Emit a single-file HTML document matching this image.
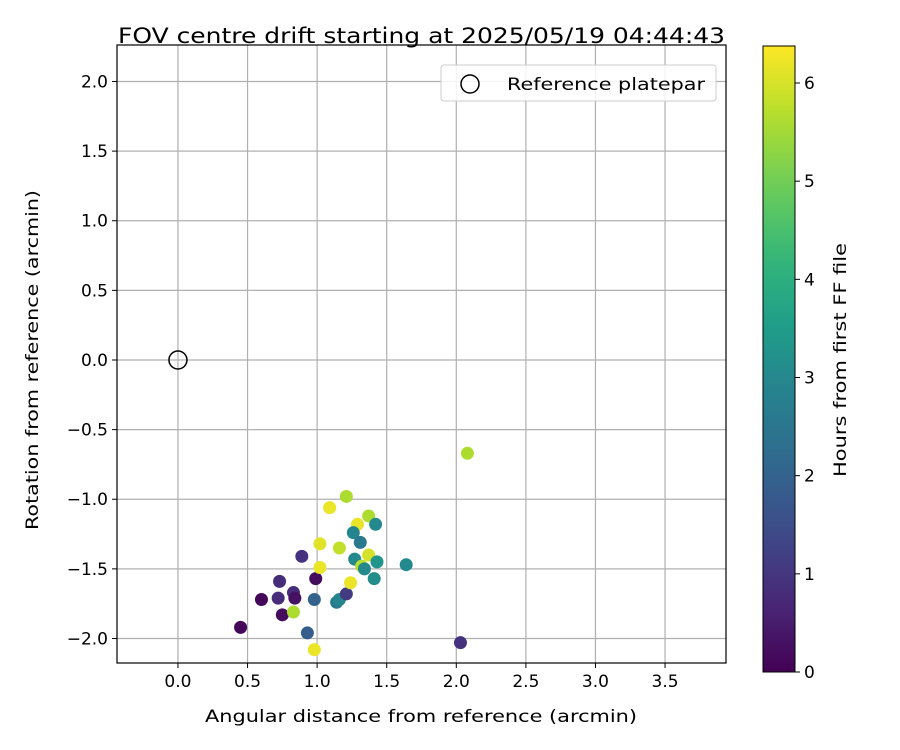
<!DOCTYPE html>
<html><head><meta charset="utf-8"><style>
html,body{margin:0;padding:0;background:#fff;}
svg{display:block;font-family:"DejaVu Sans","Liberation Sans",sans-serif;}
</style></head><body>
<svg id="chart" width="900" height="750" viewBox="0 0 900 750"></svg>
<script>
const xValues = [0.45,0.60,0.72,0.73,0.83,0.84,0.75,0.83,0.89,0.99,0.98,0.93,0.98,1.02,1.02,1.09,1.21,1.16,1.14,1.16,1.21,1.24,1.29,1.26,1.37,1.42,1.31,1.27,1.37,1.32,1.34,1.43,1.41,1.64,2.08,2.03];
const yValues = [-1.92,-1.72,-1.71,-1.59,-1.67,-1.71,-1.83,-1.81,-1.41,-1.57,-1.72,-1.96,-2.08,-1.49,-1.32,-1.06,-0.98,-1.35,-1.74,-1.72,-1.68,-1.60,-1.18,-1.24,-1.12,-1.18,-1.31,-1.43,-1.40,-1.48,-1.50,-1.45,-1.57,-1.47,-0.67,-2.03];
const hours = [0.1,0.1,0.8,0.8,0.8,0.3,0.2,5.6,0.9,0.2,2.0,1.9,6.2,6.2,6.1,6.2,5.6,5.8,2.6,2.9,1.1,6.2,6.2,2.9,5.6,3.0,2.6,3.0,6.0,5.7,3.0,3.3,3.1,3.0,5.6,0.9];
const xTicks = [0.0,0.5,1.0,1.5,2.0,2.5,3.0,3.5];
const yTicks = [2.0,1.5,1.0,0.5,0.0,-0.5,-1.0,-1.5,-2.0];
const cTicks = [0,1,2,3,4,5,6];

const NS="http://www.w3.org/2000/svg";
const svg=document.getElementById('chart');
const L=117,R=726,T=45,B=663;
const xMin=-0.438,xMax=3.938,yMin=-2.176,yMax=2.262;
const cMax=6.377, cL=763,cR=795,cT=46,cB=672;
const FS=17;
function sx(v){return L+(v-xMin)/(xMax-xMin)*(R-L);}
function sy(v){return B-(v-yMin)/(yMax-yMin)*(B-T);}
function sc(v){return cB-v/cMax*(cB-cT);}
const vir=[[68,1,84],[72,40,120],[62,74,137],[49,104,142],[38,130,142],[31,158,137],[53,183,121],[109,205,89],[180,222,44],[253,231,37]];
function viridis(t){t=Math.max(0,Math.min(1,t));const p=t*(vir.length-1);const i=Math.min(Math.floor(p),vir.length-2);const f=p-i;
 const c=vir[i].map((a,k)=>Math.round(a+(vir[i+1][k]-a)*f));return `rgb(${c[0]},${c[1]},${c[2]})`;}
function el(tag,attrs,parent){const e=document.createElementNS(NS,tag);for(const k in attrs)e.setAttribute(k,attrs[k]);(parent||svg).appendChild(e);return e;}

xTicks.forEach(v=>{
 const g=el('line',{x1:sx(v),x2:sx(v),y1:T,y2:B,stroke:'#b0b0b0','stroke-width':1.2});
 
 
 el('line',{x1:sx(v),x2:sx(v),y1:B,y2:B+5,stroke:'#000'});
 const t=el('text',{x:sx(v),y:B+24,'text-anchor':'middle','font-size':FS});t.textContent=v.toFixed(1);
 
 
});
yTicks.forEach(v=>{
 const g=el('line',{x1:L,x2:R,y1:sy(v),y2:sy(v),stroke:'#b0b0b0','stroke-width':1.2});
 
 
 el('line',{x1:L-5,x2:L,y1:sy(v),y2:sy(v),stroke:'#000'});
 const t=el('text',{x:L-9,y:sy(v)+6,'text-anchor':'end','font-size':FS});t.textContent=(v<0?'\u2212'+Math.abs(v).toFixed(1):v.toFixed(1));
 
 
});
const ref=el('circle',{cx:sx(0),cy:sy(0),r:9,fill:'none',stroke:'#000','stroke-width':1.5});


xValues.forEach((x,i)=>{
 const c=el('circle',{cx:sx(x),cy:sy(yValues[i]),r:6.5,fill:viridis(hours[i]/cMax)});
 
 
});
const fr=el('rect',{x:L,y:T,width:R-L,height:B-T,fill:'none',stroke:'#000','stroke-width':1.2});


const lg=el('g',{});


el('rect',{x:441,y:65,width:275,height:36,rx:3,fill:'#fff','fill-opacity':0.85,stroke:'#ccc'},lg);
el('circle',{cx:470,cy:84,r:9,fill:'none',stroke:'#000','stroke-width':1.5},lg);
const lt=el('text',{x:507,y:90,'font-size':FS,textLength:198,lengthAdjust:'spacingAndGlyphs'},lg);lt.textContent='Reference platepar';


const tt=el('text',{x:118,y:43,'font-size':21,textLength:607,lengthAdjust:'spacingAndGlyphs'});tt.textContent='FOV centre drift starting at 2025/05/19 04:44:43';


const xt=el('text',{x:205,y:722,'font-size':FS,textLength:432,lengthAdjust:'spacingAndGlyphs'});xt.textContent='Angular distance from reference (arcmin)';


const yt=el('text',{x:0,y:0,'font-size':FS,textLength:340,lengthAdjust:'spacingAndGlyphs',transform:`translate(38,530) rotate(-90)`});yt.textContent='Rotation from reference (arcmin)';


const defs=el('defs',{});
const gr=el('linearGradient',{id:'vg',x1:0,y1:1,x2:0,y2:0},defs);
for(let i=0;i<=20;i++){el('stop',{offset:i/20,'stop-color':viridis(i/20)},gr);}
const cb=el('rect',{x:cL,y:cT,width:cR-cL,height:cB-cT,fill:'url(#vg)',stroke:'#000','stroke-width':1});


cTicks.forEach(v=>{
 el('line',{x1:cR,x2:cR+5,y1:sc(v),y2:sc(v),stroke:'#000'});
 const t=el('text',{x:cR+9,y:sc(v)+6,'font-size':FS});t.textContent=v;
 
 
});
const ct=el('text',{x:0,y:0,'font-size':FS,textLength:234,lengthAdjust:'spacingAndGlyphs',transform:`translate(846,477) rotate(-90)`});ct.textContent='Hours from first FF file';


</script>
</body></html>
